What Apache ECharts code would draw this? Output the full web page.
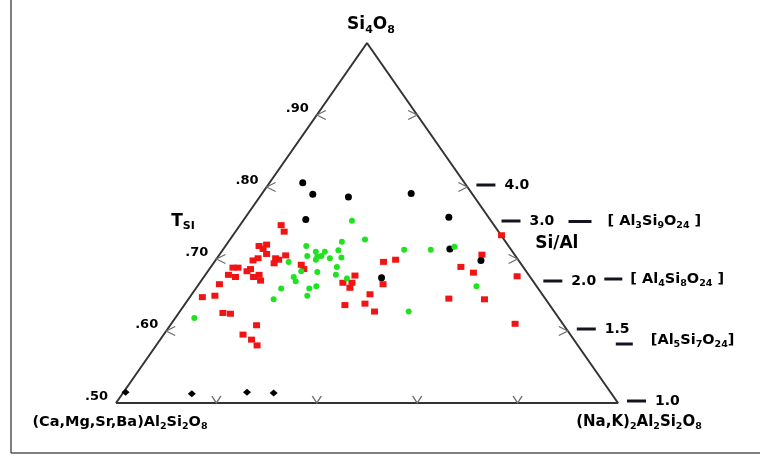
<!DOCTYPE html>
<html>
<head>
<meta charset="utf-8">
<script src="https://cdn.jsdelivr.net/npm/echarts@6/dist/echarts.min.js"></script>
<style>
  html, body { margin: 0; padding: 0; background: #fff; }
  #chart { width: 760px; height: 456px; }
</style>
</head>
<body>
<div id="chart"></div>
<script>
// x = position along the base (0 = left corner, 1 = right corner), y = T_Si (0.50 base .. 1.00 apex)
const triangle = [[0, 0.5], [1, 0.5], [0.5, 1], [0, 0.5]];
const tsiTicks = [0.5, 0.6, 0.7, 0.8, 0.9];
const tsiLabels = [".50", ".60", ".70", ".80", ".90"];
const sideArrows = [0.6, 0.7, 0.8, 0.9];
const baseArrows = [0.2, 0.4, 0.6, 0.8];
const siAlRatios = [4.0, 3.0, 2.0, 1.5, 1.0];
const siAlLabels = ["4.0", "3.0", "2.0", "1.5", "1.0"];
const formulaRatios = [3.0, 2.0, 1.5];
const formulaLabels = ["[ Al_3Si_9O_24 ]", "[ Al_4Si_8O_24 ]", "[Al_5Si_7O_24]"];

const redSquares = [
  [0.329, 0.747], [0.335, 0.738], [0.285, 0.718], [0.300, 0.720], [0.293, 0.714],
  [0.300, 0.707], [0.338, 0.705], [0.283, 0.701], [0.273, 0.698], [0.318, 0.701],
  [0.324, 0.699], [0.315, 0.694], [0.233, 0.688], [0.243, 0.688], [0.268, 0.686],
  [0.261, 0.683], [0.224, 0.678], [0.238, 0.675], [0.285, 0.678], [0.274, 0.675],
  [0.288, 0.670], [0.206, 0.665], [0.172, 0.647], [0.197, 0.649], [0.213, 0.625],
  [0.228, 0.624], [0.280, 0.608], [0.253, 0.595], [0.270, 0.588], [0.281, 0.580],
  [0.369, 0.692], [0.374, 0.686], [0.452, 0.667], [0.466, 0.660], [0.470, 0.667],
  [0.476, 0.677], [0.533, 0.696], [0.557, 0.699], [0.532, 0.665], [0.506, 0.651],
  [0.456, 0.636], [0.496, 0.638], [0.515, 0.627], [0.768, 0.733], [0.729, 0.706],
  [0.687, 0.689], [0.712, 0.681], [0.799, 0.676], [0.663, 0.645], [0.734, 0.644],
  [0.795, 0.610]
];
const greenCircles = [
  [0.470, 0.753], [0.379, 0.718], [0.450, 0.724], [0.496, 0.727], [0.398, 0.710],
  [0.416, 0.710], [0.443, 0.712], [0.381, 0.704], [0.401, 0.703], [0.409, 0.704],
  [0.426, 0.701], [0.449, 0.702], [0.398, 0.699], [0.344, 0.696], [0.440, 0.689],
  [0.369, 0.683], [0.401, 0.682], [0.354, 0.675], [0.358, 0.669], [0.438, 0.678],
  [0.460, 0.673], [0.329, 0.659], [0.399, 0.662], [0.385, 0.659], [0.381, 0.649],
  [0.314, 0.644], [0.574, 0.713], [0.627, 0.713], [0.674, 0.717], [0.718, 0.662],
  [0.583, 0.627], [0.156, 0.618]
];
const blackCircles = [
  [0.372, 0.806], [0.392, 0.790], [0.463, 0.786], [0.588, 0.791], [0.378, 0.755],
  [0.663, 0.758], [0.665, 0.714], [0.727, 0.698], [0.529, 0.674]
];
const blackDiamonds = [[0.019, 0.515], [0.151, 0.513], [0.261, 0.515], [0.314, 0.514]];

const FONT = "DejaVu Sans";
const INK = "#141420";

function richText(str) {
  return "{m|" + str.replace(/_(\d+)/g, "}{s|$1}{m|") + "}";
}
function richStyles(size, subSize) {
  const lh = size + 4;
  return {
    m: { fontSize: size, fontWeight: "bold", fontFamily: FONT, color: INK, lineHeight: lh },
    s: { fontSize: subSize, fontWeight: "bold", fontFamily: FONT, color: INK, lineHeight: lh - 6, verticalAlign: "bottom" }
  };
}

const chart = echarts.init(document.getElementById("chart"));

const arrowStyle = { color: "transparent", borderColor: "#6a6a6a", borderWidth: 1.2, opacity: 1 };

chart.setOption({
  animation: false,
  backgroundColor: "#fff",
  grid: { left: 116, right: 142, top: 43, bottom: 53 },
  xAxis: { type: "value", min: 0, max: 1, show: false },
  yAxis: { type: "value", min: 0.5, max: 1, show: false },
  series: [
    {
      type: "line", data: triangle, showSymbol: false, silent: true,
      lineStyle: { color: "#333", width: 2 }, z: 1
    },
    {
      type: "scatter", silent: true, symbol: "path://M10,0 L0,5 L10,10",
      symbolSize: [9, 9], symbolOffset: [4.5, 0], itemStyle: arrowStyle,
      data: sideArrows.map((t) => [t - 0.5, t])
    },
    {
      type: "scatter", silent: true, symbol: "path://M0,0 L10,5 L0,10",
      symbolSize: [9, 9], symbolOffset: [-4.5, 0], itemStyle: arrowStyle,
      data: sideArrows.map((t) => [1.5 - t, t])
    },
    {
      type: "scatter", silent: true, symbol: "path://M0,0 L5,8 L10,0",
      symbolSize: [9, 7], symbolOffset: [0, -3.5], itemStyle: arrowStyle,
      data: baseArrows.map((x) => [x, 0.5])
    },
    {
      type: "scatter", symbol: "rect", symbolSize: [7, 6],
      itemStyle: { color: "#f01414", opacity: 1 }, data: redSquares
    },
    {
      type: "scatter", symbol: "circle", symbolSize: 7,
      itemStyle: { color: "#000", opacity: 1 }, data: blackCircles
    },
    {
      type: "scatter", symbol: "diamond", symbolSize: [8, 7],
      itemStyle: { color: "#000", opacity: 1 }, data: blackDiamonds
    },
    {
      type: "scatter", symbol: "circle", symbolSize: 6,
      itemStyle: { color: "#1fe31f", opacity: 1 }, data: greenCircles
    }
  ]
});

const toPx = (p) => chart.convertToPixel({ gridIndex: 0 }, p);

function label(x, y, str, size, subSize, align, vAlign) {
  return {
    type: "text", x: x, y: y, silent: true, z: 10,
    style: {
      text: richText(str), rich: richStyles(size, subSize),
      textAlign: align || "left", textVerticalAlign: vAlign || "middle"
    }
  };
}
function dash(x, y, w) {
  return { type: "rect", silent: true, z: 10, shape: { x: x, y: y - 1.5, width: w, height: 3 }, style: { fill: INK } };
}

const graphics = [];

// frame of the figure
graphics.push({ type: "line", silent: true, shape: { x1: 11, y1: 0, x2: 11, y2: 453 }, style: { stroke: "#555", lineWidth: 1.5 } });
graphics.push({ type: "line", silent: true, shape: { x1: 11, y1: 453, x2: 760, y2: 453 }, style: { stroke: "#555", lineWidth: 1.5 } });

// corner labels
const apex = toPx([0.5, 1]);
const bl = toPx([0, 0.5]);
const br = toPx([1, 0.5]);
graphics.push(label(apex[0] + 4, apex[1] - 18, "Si_4O_8", 17, 11, "center"));
graphics.push(label(bl[0] + 4, bl[1] + 19, "(Ca,Mg,Sr,Ba)Al_2Si_2O_8", 14.5, 9.5, "center"));
graphics.push(label(br[0] + 21, br[1] + 19, "(Na,K)_2Al_2Si_2O_8", 15, 9.5, "center"));

// T_Si tick labels on the left edge
tsiTicks.forEach((t, i) => {
  const p = toPx([t - 0.5, t]);
  graphics.push(label(p[0] - 8, p[1] - 6, tsiLabels[i], 13, 9, "right"));
});
const tLab = toPx([0.11, 0.752]);
graphics.push({
  type: "text", x: tLab[0], y: tLab[1], silent: true,
  style: {
    text: "{t|T}{s|SI}",
    rich: {
      t: { fontSize: 17, fontWeight: "bold", fontFamily: FONT, color: INK, lineHeight: 20 },
      s: { fontSize: 11, fontWeight: "bold", fontFamily: FONT, color: INK, lineHeight: 13, verticalAlign: "bottom" }
    },
    textAlign: "left", textVerticalAlign: "middle"
  }
});

// Si/Al scale on the right edge: T_Si = r / (1 + r)
siAlRatios.forEach((r, i) => {
  const t = r / (1 + r);
  const p = toPx([1.5 - t, t]);
  graphics.push(dash(p[0] + 9, p[1] - 2, 19));
  graphics.push(label(p[0] + 37, p[1] - 2, siAlLabels[i], 14, 9));
});
const siAl = toPx([0.835, 0.722]);
graphics.push(label(siAl[0], siAl[1], "Si/Al", 17, 11));

// structural formulas next to the ratios
const formulaLayout = [
  { dx: 76, dashW: 23, dy: -1.5, tx: 115, ty: -1.5 },
  { dx: 70, dashW: 18, dy: -4, tx: 96, ty: -4 },
  { dx: 48, dashW: 17, dy: 13, tx: 83, ty: 9 }
];
formulaRatios.forEach((r, i) => {
  const t = r / (1 + r);
  const p = toPx([1.5 - t, t]);
  const l = formulaLayout[i];
  graphics.push(dash(p[0] + l.dx, p[1] + l.dy, l.dashW));
  graphics.push(label(p[0] + l.tx, p[1] + l.ty, formulaLabels[i], 14.5, 9.5));
});

chart.setOption({ graphic: graphics });
</script>
</body>
</html>
